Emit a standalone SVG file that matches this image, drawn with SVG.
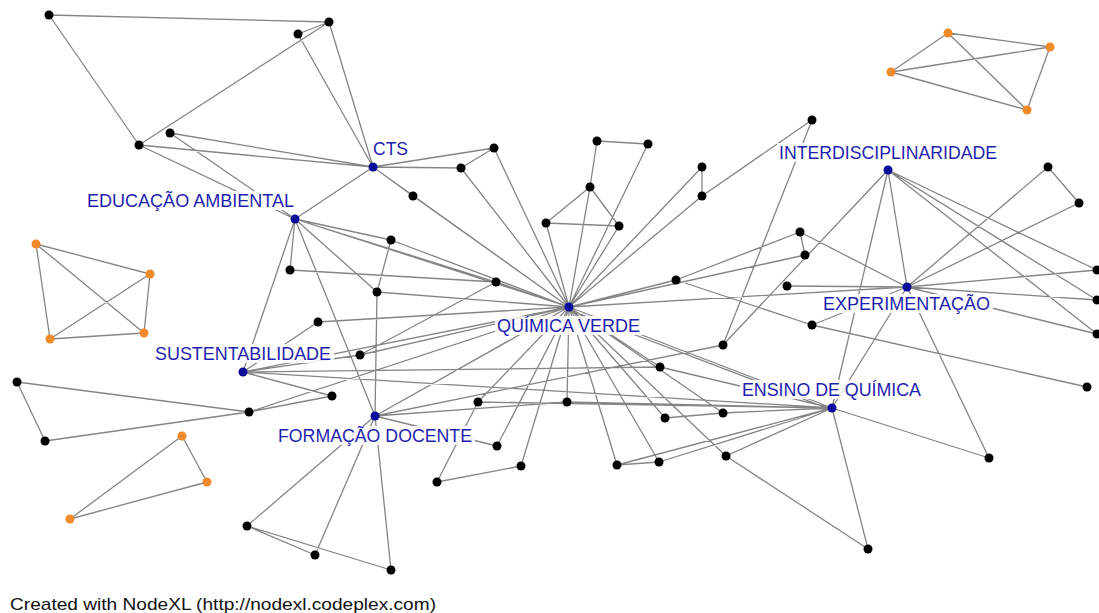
<svg xmlns="http://www.w3.org/2000/svg" width="1099" height="613" viewBox="0 0 1099 613">
<style>
.e{stroke:#858585;stroke-width:1.3;fill:none}
.n{fill:#000}
.h{fill:#0a0a9a}
.o{fill:#f08a2a}
.lb{font-family:"Liberation Sans",Arial,sans-serif;font-size:18px;fill:#1f1fb0}
.bg{fill:#fff;fill-opacity:0.85}
.ft{font-family:"Liberation Sans",Arial,sans-serif;font-size:17px;fill:#111}
</style>
<rect width="1099" height="613" fill="#fff"/>
<g id="connectors">
<path class="e" d="M49,15L329,22 M49,15L139,145 M139,145L329,22 M298,34L329,22 M298,34L373,167 M329,22L373,167 M139,145L373,167 M170,133L373,167 M139,145L295,219 M170,133L295,219
M373,167L295,219 M373,167L413,196 M373,167L569,307 M413,196L569,307 M373,167L461,168 M373,167L494,148 M461,168L494,148 M461,168L569,307 M494,148L569,307
M295,219L391,240 M295,219L569,307 M295,219L496,282 M295,219L290,270 M295,219L377,292 M295,219L375,416 M295,219L243,372
M290,270L496,282 M496,282L569,307 M391,240L569,307 M391,240L377,292 M377,292L569,307 M377,292L375,416
M318,322L569,307 M318,322L243,372 M360,355L569,307 M243,372L569,307 M243,372L360,355 M243,372L332,396 M496,282L360,355
M597,141L648,144 M597,141L590,187 M648,144L569,307 M590,187L546,223 M590,187L569,307 M590,187L619,226 M702,167L702,196 M702,167L569,307 M702,196L569,307 M702,196L812,120 M812,120L723,345 M546,223L619,226 M546,223L569,307 M619,226L569,307
M676,280L569,307 M676,280L812,325 M676,280L800,232 M800,232L805,255 M805,255L569,307 M787,286L907,287 M800,232L907,287 M812,325L907,287 M812,325L1087,387 M723,345L375,416 M723,345L888,170
M569,307L907,287 M569,307L832,408 M575,312L832,410 M569,307L660,367 M660,367L832,408 M660,367L243,372
M888,170L907,287 M888,170L1097,270 M888,170L1097,300 M888,170L1097,334 M888,170L832,408 M1048,167L1079,203 M1048,167L907,287 M1079,203L907,287 M907,287L1097,270 M907,287L1097,300 M907,287L1097,334 M907,287L989,458 M907,287L832,408
M832,408L567,402 M832,408L723,413 M832,408L617,465 M832,408L659,462 M832,408L726,456 M832,408L989,458 M832,408L868,549 M726,456L868,549 M665,418L723,413 M617,465L659,462
M569,307L617,465 M569,307L659,462 M569,307L665,418 M569,307L726,456 M569,307L723,413 M569,307L521,466 M569,307L567,402 M569,307L478,402 M569,307L497,446
M437,482L521,466 M437,482L478,402 M375,416L497,446 M375,416L569,307 M375,416L560,312
M375,416L247,526 M375,416L315,555 M375,416L391,570 M247,526L315,555 M247,526L391,570 M17,382L45,441 M17,382L249,412 M45,441L249,412 M249,412L569,307 M243,372L832,408
M249,412L332,396 M375,416L567,402 M478,402L832,408
M948,33L1050,47 M948,33L891,72 M948,33L1027,110 M1050,47L891,72 M1050,47L1027,110 M891,72L1027,110
M36,244L150,274 M36,244L144,333 M36,244L50,339 M150,274L50,339 M150,274L144,333 M50,339L144,333
M182,436L207,482 M182,436L70,519 M207,482L70,519"/>
</g>
<g id="labels">
<rect class="bg" x="371" y="140" width="40" height="18"/>
<text class="lb" x="373" y="155" textLength="35" lengthAdjust="spacingAndGlyphs">CTS</text>
<rect class="bg" x="85" y="191" width="212" height="19"/>
<text class="lb" x="87" y="207" textLength="207" lengthAdjust="spacingAndGlyphs">EDUCAÇÃO AMBIENTAL</text>
<rect class="bg" x="153" y="344" width="181" height="19"/>
<text class="lb" x="155" y="360" textLength="176" lengthAdjust="spacingAndGlyphs">SUSTENTABILIDADE</text>
<rect class="bg" x="495" y="316" width="148" height="19"/>
<text class="lb" x="497" y="332" textLength="143" lengthAdjust="spacingAndGlyphs">QUÍMICA VERDE</text>
<rect class="bg" x="777" y="143" width="223" height="19"/>
<text class="lb" x="779" y="159" textLength="218" lengthAdjust="spacingAndGlyphs">INTERDISCIPLINARIDADE</text>
<rect class="bg" x="821" y="294" width="172" height="19"/>
<text class="lb" x="823" y="310" textLength="167" lengthAdjust="spacingAndGlyphs">EXPERIMENTAÇÃO</text>
<rect class="bg" x="740" y="380" width="184" height="19"/>
<text class="lb" x="742" y="396" textLength="179" lengthAdjust="spacingAndGlyphs">ENSINO DE QUÍMICA</text>
<rect class="bg" x="276" y="426" width="199" height="19"/>
<text class="lb" x="278" y="442" textLength="194" lengthAdjust="spacingAndGlyphs">FORMAÇÃO DOCENTE</text>
</g>
<g id="hubs">
<circle id="CTS" class="h" cx="373" cy="167" r="4.5"/>
<circle id="EDUCACAO_AMBIENTAL" class="h" cx="295" cy="219" r="4.5"/>
<circle id="SUSTENTABILIDADE" class="h" cx="243" cy="372" r="4.5"/>
<circle id="FORMACAO_DOCENTE" class="h" cx="375" cy="416" r="4.5"/>
<circle id="QUIMICA_VERDE" class="h" cx="569" cy="307" r="4.5"/>
<circle id="INTERDISCIPLINARIDADE" class="h" cx="888" cy="170" r="4.5"/>
<circle id="EXPERIMENTACAO" class="h" cx="907" cy="287" r="4.5"/>
<circle id="ENSINO_DE_QUIMICA" class="h" cx="832" cy="408" r="4.5"/>
</g>
<g id="nodes">
<circle id="n1" class="n" cx="49" cy="15" r="4.5"/>
<circle id="n2" class="n" cx="329" cy="22" r="4.5"/>
<circle id="n3" class="n" cx="298" cy="34" r="4.5"/>
<circle id="n4" class="n" cx="139" cy="145" r="4.5"/>
<circle id="n5" class="n" cx="170" cy="133" r="4.5"/>
<circle id="n6" class="n" cx="494" cy="148" r="4.5"/>
<circle id="n7" class="n" cx="461" cy="168" r="4.5"/>
<circle id="n8" class="n" cx="413" cy="196" r="4.5"/>
<circle id="n9" class="n" cx="597" cy="141" r="4.5"/>
<circle id="n10" class="n" cx="648" cy="144" r="4.5"/>
<circle id="n11" class="n" cx="590" cy="187" r="4.5"/>
<circle id="n12" class="n" cx="702" cy="167" r="4.5"/>
<circle id="n13" class="n" cx="702" cy="196" r="4.5"/>
<circle id="n14" class="n" cx="812" cy="120" r="4.5"/>
<circle id="n15" class="n" cx="546" cy="223" r="4.5"/>
<circle id="n16" class="n" cx="619" cy="226" r="4.5"/>
<circle id="n17" class="n" cx="391" cy="240" r="4.5"/>
<circle id="n18" class="n" cx="290" cy="270" r="4.5"/>
<circle id="n19" class="n" cx="377" cy="292" r="4.5"/>
<circle id="n20" class="n" cx="496" cy="282" r="4.5"/>
<circle id="n21" class="n" cx="676" cy="280" r="4.5"/>
<circle id="n22" class="n" cx="800" cy="232" r="4.5"/>
<circle id="n23" class="n" cx="805" cy="255" r="4.5"/>
<circle id="n24" class="n" cx="787" cy="286" r="4.5"/>
<circle id="n25" class="n" cx="812" cy="325" r="4.5"/>
<circle id="n26" class="n" cx="723" cy="345" r="4.5"/>
<circle id="n27" class="n" cx="318" cy="322" r="4.5"/>
<circle id="n28" class="n" cx="360" cy="355" r="4.5"/>
<circle id="n29" class="n" cx="660" cy="367" r="4.5"/>
<circle id="n30" class="n" cx="1048" cy="167" r="4.5"/>
<circle id="n31" class="n" cx="1079" cy="203" r="4.5"/>
<circle id="n32" class="n" cx="1097" cy="270" r="4.5"/>
<circle id="n33" class="n" cx="1097" cy="300" r="4.5"/>
<circle id="n34" class="n" cx="1097" cy="334" r="4.5"/>
<circle id="n35" class="n" cx="1087" cy="387" r="4.5"/>
<circle id="n36" class="n" cx="17" cy="382" r="4.5"/>
<circle id="n37" class="n" cx="45" cy="441" r="4.5"/>
<circle id="n38" class="n" cx="249" cy="412" r="4.5"/>
<circle id="n39" class="n" cx="332" cy="396" r="4.5"/>
<circle id="n40" class="n" cx="478" cy="402" r="4.5"/>
<circle id="n41" class="n" cx="567" cy="402" r="4.5"/>
<circle id="n42" class="n" cx="497" cy="446" r="4.5"/>
<circle id="n43" class="n" cx="521" cy="466" r="4.5"/>
<circle id="n44" class="n" cx="437" cy="482" r="4.5"/>
<circle id="n45" class="n" cx="665" cy="418" r="4.5"/>
<circle id="n46" class="n" cx="723" cy="413" r="4.5"/>
<circle id="n47" class="n" cx="617" cy="465" r="4.5"/>
<circle id="n48" class="n" cx="659" cy="462" r="4.5"/>
<circle id="n49" class="n" cx="726" cy="456" r="4.5"/>
<circle id="n50" class="n" cx="989" cy="458" r="4.5"/>
<circle id="n51" class="n" cx="868" cy="549" r="4.5"/>
<circle id="n52" class="n" cx="247" cy="526" r="4.5"/>
<circle id="n53" class="n" cx="315" cy="555" r="4.5"/>
<circle id="n54" class="n" cx="391" cy="570" r="4.5"/>
<circle id="o1" class="o" cx="948" cy="33" r="4.5"/>
<circle id="o2" class="o" cx="1050" cy="47" r="4.5"/>
<circle id="o3" class="o" cx="891" cy="72" r="4.5"/>
<circle id="o4" class="o" cx="1027" cy="110" r="4.5"/>
<circle id="o5" class="o" cx="36" cy="244" r="4.5"/>
<circle id="o6" class="o" cx="150" cy="274" r="4.5"/>
<circle id="o7" class="o" cx="50" cy="339" r="4.5"/>
<circle id="o8" class="o" cx="144" cy="333" r="4.5"/>
<circle id="o9" class="o" cx="182" cy="436" r="4.5"/>
<circle id="o10" class="o" cx="207" cy="482" r="4.5"/>
<circle id="o11" class="o" cx="70" cy="519" r="4.5"/>
</g>
<text class="ft" x="10" y="610" textLength="426" lengthAdjust="spacingAndGlyphs">Created with NodeXL (http://nodexl.codeplex.com)</text>
</svg>
